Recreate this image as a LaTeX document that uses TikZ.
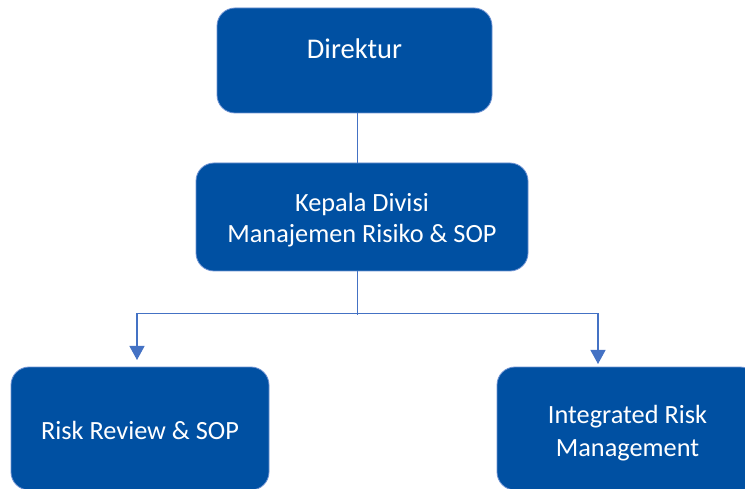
\documentclass[tikz,border=0pt]{standalone}
\usepackage{fontspec}
\setmainfont{Carlito}
\usetikzlibrary{arrows.meta,calc}
\definecolor{boxfill}{RGB}{0,80,162}
\definecolor{boxline}{RGB}{110,146,210}
\definecolor{connc}{RGB}{68,114,196}
\begin{document}
\begin{tikzpicture}[x=1pt,y=-1pt,
  orgbox/.style={draw=boxline, line width=0.8pt, fill=boxfill, rounded corners=18pt,
    text=white, align=center, inner sep=0pt, font=\fontsize{26.3}{31.5}\selectfont},
  conn/.style={draw=connc, line width=1.2pt},
  arr/.style={conn, -{Triangle[width=15pt,length=14pt]}}]
\useasboundingbox (0,0) rectangle (745,489);
\clip (0,0) rectangle (745,489);
\node[orgbox, minimum width=275pt, minimum height=105pt, text height=20pt, text depth=23pt,
  font=\fontsize{28.5}{34}\selectfont] (dir) at (354.5,60.5) {Direktur};
\node[orgbox, minimum width=332pt, minimum height=108pt, text height=52pt, text depth=0pt]
  (kep) at (362,217) {Kepala Divisi\\Manajemen Risiko \& SOP};
\node[orgbox, minimum width=258pt, minimum height=123pt, text height=21pt, text depth=0pt]
  (rr) at (140,428.5) {Risk Review \& SOP};
\node[orgbox, minimum width=261pt, minimum height=123pt, text height=55pt, text depth=0pt,
  font=\fontsize{26.3}{32.5}\selectfont]
  (irm) at (627.5,428.5) {Integrated Risk\\Management};
\coordinate (j) at (357.5,313.5);
\coordinate (jb) at (357.5,315.5);
\coordinate (tipL) at (137,360);
\coordinate (tipR) at (598,364);
\draw[conn] (dir.south -| j) -- (kep.north -| j);
\draw[conn] (kep.south -| j) -- (jb);
\draw[arr] (j) -| (tipL);
\draw[arr] (j) -| (tipR);
\end{tikzpicture}
\end{document}
